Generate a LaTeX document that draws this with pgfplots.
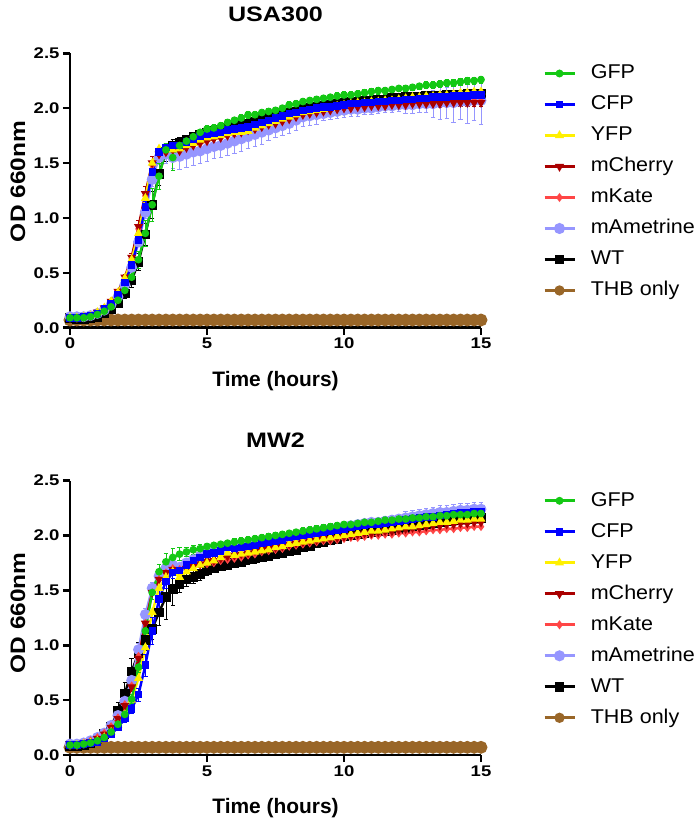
\documentclass[border=0pt]{standalone}
\usepackage{pgfplots}
\pgfplotsset{compat=1.18}
\usepackage{pgfplotstable}
\usepackage{fontspec}
\setmainfont{Liberation Sans}
\newfontfamily\widefont[FakeStretch=1.2]{Liberation Sans}
\newfontfamily\legfont[FakeStretch=1.08]{Liberation Sans}
\newfontfamily\ylfont[FakeStretch=1.17]{Liberation Sans}
\definecolor{cG}{RGB}{20,200,20}
\definecolor{cC}{RGB}{0,0,255}
\definecolor{cY}{RGB}{255,240,0}
\definecolor{cCh}{RGB}{170,0,0}
\definecolor{cKa}{RGB}{255,70,70}
\definecolor{cAm}{RGB}{150,150,255}
\definecolor{cTHB}{RGB}{153,102,40}

\pgfplotstableread{
t G C Y Ch Ka Am WT THB eG eC eCh eAm eWT
0 0.09 0.09 0.09 0.09 0.09 0.10 0.09 0.07 0.01 0.01 0.01 0.01 0.01
0.25 0.09 0.09 0.09 0.09 0.09 0.10 0.08 0.07 0.01 0.01 0.01 0.01 0.01
0.5 0.09 0.10 0.10 0.10 0.10 0.10 0.08 0.07 0.01 0.01 0.01 0.01 0.01
0.75 0.10 0.11 0.11 0.11 0.11 0.11 0.09 0.07 0.01 0.01 0.01 0.01 0.01
1.0 0.12 0.13 0.14 0.14 0.14 0.13 0.10 0.07 0.01 0.01 0.01 0.01 0.01
1.25 0.15 0.17 0.18 0.18 0.18 0.16 0.13 0.07 0.01 0.01 0.01 0.01 0.02
1.5 0.19 0.22 0.24 0.24 0.24 0.21 0.17 0.07 0.02 0.01 0.02 0.01 0.02
1.75 0.25 0.30 0.32 0.33 0.32 0.28 0.22 0.07 0.02 0.02 0.02 0.02 0.03
2.0 0.34 0.41 0.45 0.46 0.45 0.39 0.31 0.07 0.03 0.02 0.03 0.02 0.04
2.25 0.46 0.57 0.62 0.64 0.63 0.55 0.43 0.07 0.05 0.03 0.04 0.03 0.06
2.5 0.62 0.80 0.86 0.92 0.90 0.78 0.60 0.07 0.08 0.04 0.06 0.04 0.08
2.75 0.86 1.10 1.18 1.22 1.20 1.05 0.85 0.07 0.12 0.05 0.07 0.05 0.10
3.0 1.12 1.42 1.50 1.50 1.48 1.35 1.12 0.07 0.15 0.05 0.06 0.06 0.12
3.25 1.38 1.60 1.63 1.58 1.58 1.55 1.40 0.07 0.12 0.04 0.05 0.06 0.10
3.5 1.62 1.64 1.63 1.60 1.60 1.58 1.60 0.07 0.06 0.04 0.04 0.08 0.08
3.75 1.55 1.66 1.62 1.62 1.62 1.55 1.66 0.07 0.12 0.04 0.04 0.10 0.06
4.0 1.66 1.66 1.63 1.61 1.62 1.56 1.68 0.07 0.05 0.03 0.04 0.12 0.05
4.25 1.70 1.69 1.66 1.64 1.65 1.58 1.71 0.07 0.03 0.03 0.03 0.12 0.04
4.5 1.74 1.72 1.68 1.66 1.67 1.60 1.74 0.07 0.03 0.03 0.03 0.12 0.04
4.75 1.78 1.74 1.71 1.68 1.69 1.61 1.76 0.07 0.03 0.02 0.03 0.11 0.03
5.0 1.81 1.76 1.73 1.70 1.71 1.63 1.78 0.07 0.03 0.02 0.03 0.11 0.03
5.25 1.82 1.77 1.74 1.72 1.73 1.65 1.79 0.07 0.03 0.02 0.03 0.11 0.03
5.5 1.84 1.78 1.75 1.73 1.74 1.66 1.80 0.07 0.03 0.02 0.03 0.11 0.03
5.75 1.87 1.80 1.77 1.75 1.76 1.68 1.82 0.07 0.03 0.02 0.03 0.11 0.03
6.0 1.89 1.81 1.78 1.77 1.78 1.70 1.84 0.07 0.03 0.02 0.03 0.11 0.03
6.25 1.91 1.82 1.78 1.78 1.79 1.72 1.85 0.07 0.03 0.02 0.03 0.11 0.03
6.5 1.94 1.83 1.79 1.80 1.80 1.74 1.86 0.07 0.03 0.02 0.03 0.11 0.03
6.75 1.94 1.85 1.82 1.81 1.82 1.76 1.88 0.07 0.03 0.02 0.03 0.11 0.03
7.0 1.96 1.87 1.84 1.83 1.84 1.78 1.90 0.07 0.03 0.02 0.03 0.11 0.03
7.25 1.97 1.89 1.86 1.85 1.86 1.80 1.91 0.07 0.03 0.02 0.03 0.09 0.03
7.5 1.98 1.91 1.88 1.86 1.87 1.82 1.93 0.07 0.03 0.02 0.03 0.09 0.03
7.75 2.00 1.93 1.90 1.88 1.89 1.84 1.94 0.07 0.03 0.02 0.03 0.09 0.03
8.0 2.03 1.95 1.92 1.90 1.91 1.86 1.96 0.07 0.03 0.02 0.03 0.09 0.03
8.25 2.04 1.96 1.94 1.92 1.93 1.89 1.97 0.07 0.03 0.02 0.03 0.09 0.03
8.5 2.06 1.98 1.96 1.94 1.95 1.92 1.99 0.07 0.03 0.02 0.03 0.09 0.03
8.75 2.07 1.99 1.97 1.95 1.96 1.93 2.00 0.07 0.03 0.02 0.03 0.09 0.03
9.0 2.08 2.00 1.98 1.96 1.97 1.94 2.01 0.07 0.03 0.02 0.03 0.09 0.03
9.25 2.09 2.01 1.99 1.97 1.98 1.95 2.02 0.07 0.03 0.02 0.03 0.06 0.03
9.5 2.10 2.01 2.00 1.98 1.99 1.96 2.03 0.07 0.03 0.02 0.03 0.06 0.03
9.75 2.11 2.02 2.02 1.99 2.00 1.97 2.04 0.07 0.03 0.02 0.03 0.06 0.03
10.0 2.12 2.03 2.03 2.00 2.01 1.98 2.05 0.07 0.03 0.02 0.03 0.06 0.03
10.25 2.12 2.04 2.04 2.00 2.02 1.99 2.06 0.07 0.03 0.02 0.03 0.06 0.03
10.5 2.13 2.04 2.05 2.01 2.02 1.99 2.06 0.07 0.03 0.02 0.03 0.06 0.03
10.75 2.14 2.05 2.05 2.01 2.03 2.00 2.07 0.07 0.03 0.02 0.03 0.06 0.03
11.0 2.15 2.05 2.06 2.02 2.03 2.00 2.07 0.07 0.03 0.02 0.03 0.06 0.03
11.25 2.16 2.06 2.06 2.02 2.04 2.01 2.08 0.07 0.03 0.02 0.03 0.06 0.03
11.5 2.16 2.06 2.07 2.02 2.04 2.02 2.08 0.07 0.03 0.02 0.03 0.06 0.03
11.75 2.17 2.07 2.07 2.03 2.05 2.02 2.09 0.07 0.03 0.02 0.03 0.06 0.03
12.0 2.18 2.07 2.08 2.03 2.05 2.03 2.09 0.07 0.03 0.02 0.03 0.06 0.03
12.25 2.18 2.08 2.09 2.03 2.06 2.03 2.10 0.07 0.03 0.02 0.03 0.08 0.03
12.5 2.19 2.08 2.10 2.04 2.06 2.03 2.10 0.07 0.03 0.02 0.03 0.08 0.03
12.75 2.20 2.09 2.10 2.04 2.07 2.04 2.10 0.07 0.03 0.02 0.03 0.08 0.03
13.0 2.21 2.09 2.11 2.04 2.07 2.04 2.11 0.07 0.03 0.02 0.03 0.08 0.03
13.25 2.21 2.10 2.11 2.04 2.07 2.04 2.11 0.07 0.03 0.02 0.03 0.12 0.03
13.5 2.22 2.10 2.12 2.04 2.08 2.05 2.11 0.07 0.03 0.02 0.03 0.15 0.03
13.75 2.23 2.10 2.12 2.05 2.08 2.05 2.12 0.07 0.03 0.02 0.03 0.14 0.03
14.0 2.23 2.11 2.13 2.05 2.08 2.05 2.12 0.07 0.03 0.02 0.03 0.18 0.03
14.25 2.24 2.11 2.14 2.05 2.09 2.06 2.12 0.07 0.03 0.02 0.03 0.16 0.03
14.5 2.25 2.11 2.14 2.05 2.09 2.06 2.13 0.07 0.03 0.02 0.03 0.20 0.03
14.75 2.25 2.12 2.15 2.05 2.09 2.07 2.13 0.07 0.03 0.02 0.03 0.18 0.03
15.0 2.26 2.12 2.15 2.05 2.09 2.07 2.13 0.07 0.03 0.02 0.03 0.22 0.03
}\topdata

\pgfplotstableread{
t G C Y Ch Ka Am WT THB eG eC eCh eAm eWT
0 0.09 0.09 0.09 0.09 0.09 0.10 0.08 0.07 0.01 0.01 0.01 0.01 0.01
0.25 0.09 0.09 0.09 0.09 0.09 0.10 0.08 0.07 0.01 0.01 0.01 0.01 0.01
0.5 0.10 0.10 0.10 0.11 0.11 0.11 0.09 0.07 0.01 0.01 0.01 0.01 0.01
0.75 0.11 0.11 0.11 0.12 0.13 0.13 0.11 0.07 0.01 0.01 0.01 0.01 0.01
1.0 0.13 0.12 0.13 0.15 0.16 0.16 0.14 0.07 0.01 0.01 0.01 0.01 0.02
1.25 0.16 0.15 0.16 0.19 0.20 0.20 0.19 0.07 0.01 0.01 0.02 0.02 0.03
1.5 0.21 0.19 0.21 0.25 0.26 0.27 0.26 0.07 0.02 0.02 0.02 0.02 0.05
1.75 0.28 0.25 0.27 0.33 0.34 0.36 0.40 0.07 0.02 0.02 0.03 0.03 0.08
2.0 0.37 0.33 0.37 0.45 0.46 0.49 0.56 0.07 0.03 0.03 0.03 0.04 0.10
2.25 0.51 0.42 0.50 0.62 0.63 0.68 0.76 0.07 0.04 0.04 0.04 0.05 0.12
2.5 0.80 0.55 0.70 0.88 0.90 0.96 0.93 0.07 0.05 0.06 0.05 0.06 0.10
2.75 1.13 0.82 0.98 1.20 1.20 1.28 1.05 0.07 0.06 0.10 0.06 0.06 0.10
3.0 1.48 1.13 1.30 1.48 1.48 1.52 1.15 0.07 0.06 0.12 0.06 0.05 0.10
3.25 1.67 1.42 1.52 1.60 1.60 1.63 1.30 0.07 0.07 0.10 0.05 0.05 0.12
3.5 1.76 1.58 1.62 1.66 1.66 1.70 1.44 0.07 0.08 0.06 0.04 0.04 0.20
3.75 1.80 1.66 1.67 1.69 1.70 1.73 1.51 0.07 0.08 0.05 0.04 0.04 0.15
4.0 1.83 1.68 1.62 1.68 1.69 1.71 1.56 0.07 0.06 0.05 0.03 0.04 0.08
4.25 1.85 1.73 1.67 1.70 1.71 1.75 1.60 0.07 0.04 0.04 0.03 0.03 0.06
4.5 1.87 1.77 1.70 1.72 1.72 1.78 1.62 0.07 0.04 0.04 0.03 0.03 0.06
4.75 1.88 1.80 1.73 1.74 1.73 1.81 1.65 0.07 0.04 0.04 0.03 0.03 0.06
5.0 1.90 1.83 1.75 1.76 1.74 1.84 1.68 0.07 0.03 0.03 0.03 0.03 0.04
5.25 1.91 1.84 1.77 1.77 1.75 1.85 1.70 0.07 0.03 0.03 0.03 0.03 0.04
5.5 1.92 1.86 1.80 1.79 1.77 1.87 1.72 0.07 0.03 0.03 0.03 0.03 0.04
5.75 1.93 1.89 1.84 1.81 1.78 1.91 1.73 0.07 0.03 0.03 0.03 0.03 0.04
6.0 1.94 1.88 1.82 1.82 1.79 1.90 1.75 0.07 0.03 0.03 0.03 0.03 0.04
6.25 1.95 1.89 1.83 1.83 1.80 1.91 1.76 0.07 0.03 0.03 0.03 0.03 0.04
6.5 1.96 1.90 1.84 1.84 1.82 1.92 1.78 0.07 0.03 0.03 0.03 0.03 0.04
6.75 1.97 1.91 1.85 1.86 1.83 1.93 1.79 0.07 0.03 0.03 0.03 0.03 0.04
7.0 1.98 1.93 1.86 1.87 1.85 1.94 1.80 0.07 0.03 0.03 0.03 0.03 0.04
7.25 1.99 1.94 1.87 1.88 1.86 1.95 1.81 0.07 0.03 0.03 0.03 0.04 0.03
7.5 2.00 1.95 1.89 1.89 1.87 1.96 1.83 0.07 0.03 0.03 0.03 0.04 0.03
7.75 2.01 1.96 1.90 1.90 1.88 1.97 1.84 0.07 0.03 0.03 0.03 0.04 0.03
8.0 2.02 1.98 1.92 1.92 1.90 1.98 1.86 0.07 0.03 0.03 0.03 0.04 0.03
8.25 2.03 1.99 1.93 1.93 1.91 1.99 1.87 0.07 0.03 0.03 0.03 0.04 0.03
8.5 2.04 2.00 1.94 1.94 1.92 2.01 1.89 0.07 0.03 0.03 0.03 0.04 0.03
8.75 2.05 2.01 1.95 1.95 1.93 2.03 1.90 0.07 0.03 0.03 0.03 0.04 0.03
9.0 2.06 2.02 1.96 1.96 1.94 2.04 1.93 0.07 0.03 0.03 0.03 0.04 0.03
9.25 2.07 2.03 1.97 1.97 1.95 2.05 1.94 0.07 0.03 0.03 0.03 0.04 0.03
9.5 2.08 2.04 1.98 1.97 1.95 2.06 1.96 0.07 0.03 0.03 0.03 0.04 0.03
9.75 2.09 2.05 1.99 1.98 1.96 2.07 1.97 0.07 0.03 0.03 0.03 0.04 0.03
10.0 2.10 2.06 2.00 1.99 1.97 2.08 1.99 0.07 0.03 0.03 0.03 0.04 0.03
10.25 2.10 2.07 2.01 2.00 1.98 2.09 2.00 0.07 0.03 0.03 0.03 0.04 0.03
10.5 2.11 2.08 2.02 2.01 1.98 2.10 2.01 0.07 0.03 0.03 0.03 0.04 0.03
10.75 2.12 2.09 2.03 2.02 1.99 2.11 2.02 0.07 0.03 0.03 0.03 0.04 0.03
11.0 2.12 2.10 2.04 2.02 2.00 2.12 2.03 0.07 0.03 0.03 0.03 0.04 0.03
11.25 2.13 2.10 2.04 2.03 2.00 2.12 2.04 0.07 0.03 0.03 0.03 0.04 0.03
11.5 2.14 2.11 2.05 2.04 2.01 2.13 2.04 0.07 0.03 0.03 0.03 0.04 0.03
11.75 2.14 2.12 2.06 2.04 2.01 2.14 2.05 0.07 0.03 0.03 0.03 0.04 0.03
12.0 2.15 2.13 2.07 2.05 2.02 2.15 2.06 0.07 0.03 0.03 0.03 0.04 0.03
12.25 2.15 2.14 2.08 2.06 2.02 2.16 2.07 0.07 0.03 0.04 0.03 0.06 0.03
12.5 2.16 2.15 2.08 2.07 2.03 2.17 2.08 0.07 0.03 0.04 0.03 0.06 0.03
12.75 2.16 2.16 2.09 2.07 2.03 2.18 2.09 0.07 0.03 0.04 0.03 0.06 0.03
13.0 2.17 2.17 2.10 2.08 2.04 2.19 2.10 0.07 0.03 0.04 0.03 0.06 0.03
13.25 2.17 2.17 2.11 2.09 2.05 2.20 2.11 0.07 0.03 0.04 0.03 0.06 0.03
13.5 2.18 2.18 2.12 2.09 2.05 2.21 2.12 0.07 0.03 0.04 0.03 0.06 0.03
13.75 2.18 2.19 2.12 2.10 2.06 2.21 2.13 0.07 0.03 0.04 0.03 0.06 0.03
14.0 2.19 2.20 2.13 2.10 2.06 2.22 2.14 0.07 0.03 0.04 0.03 0.06 0.03
14.25 2.19 2.21 2.14 2.11 2.07 2.23 2.15 0.07 0.03 0.04 0.03 0.06 0.03
14.5 2.19 2.21 2.14 2.11 2.07 2.23 2.15 0.07 0.03 0.04 0.03 0.06 0.03
14.75 2.20 2.22 2.15 2.12 2.08 2.24 2.16 0.07 0.03 0.04 0.03 0.06 0.03
15.0 2.20 2.22 2.15 2.12 2.08 2.24 2.16 0.07 0.03 0.04 0.03 0.06 0.03
}\botdata

\pgfplotsset{
  myaxis/.style={
    scale only axis, width=411bp, height=274.4bp,
    anchor=south west,
    xmin=0, xmax=15, ymin=0, ymax=2.5,
    axis x line*=bottom, axis y line*=left,
    axis line style={line width=2.6bp},
    tick align=outside, major tick length=7bp,
    tick style={line width=2.6bp, black},
    xtick={0,5,10,15}, ytick={0,0.5,1,1.5,2,2.5},
    yticklabel style={/pgf/number format/.cd, fixed, fixed zerofill, precision=1},
    /pgf/number format/assume math mode=true,
    tick label style={font=\widefont\bfseries\fontsize{15.5}{15.5}\selectfont},
    clip=false,
    reverse legend,
    legend cell align=left,
    legend style={at={(rel axis cs:1,1)}, anchor=north west, xshift=62bp, yshift=-10.5bp,
      draw=none, fill=none, inner sep=0pt, row sep=12bp, column sep=15bp,
      font=\legfont\fontsize{20}{20}\selectfont,
      nodes={inner sep=0pt, text height=15bp, text depth=4bp}},
    legend image post style={line width=2.6bp},
    legend image code/.code={\draw[mark repeat=2,mark phase=2,#1] plot coordinates {(0bp,0bp) (15bp,0bp) (30bp,0bp)};},
  },
  eb/.style={error bars/.cd, y dir=both, y explicit,
    error bar style={line width=0.7bp},
    error mark options={rotate=90, mark size=2.2bp, line width=0.7bp}},
}

\newcommand{\drawseries}[1]{%
  \addplot[cTHB, line width=5bp, mark=*, mark size=3.8bp] table[x=t, y=THB]{#1};
  \addlegendentry{THB only}
  \addplot[black, line width=2.4bp, mark=square*, mark size=3.6bp, eb] table[x=t, y=WT, y error=eWT]{#1};
  \addlegendentry{WT}
  \addplot[cAm, line width=2.4bp, mark=*, mark size=4.2bp, eb] table[x=t, y=Am, y error=eAm]{#1};
  \addlegendentry{mAmetrine}
  \addplot[cKa, line width=2.4bp, mark=diamond*, mark size=2.4bp] table[x=t, y=Ka]{#1};
  \addlegendentry{mKate}
  \addplot[cCh, line width=2.4bp, mark=triangle*, mark size=2.8bp, mark options={rotate=180}, eb] table[x=t, y=Ch, y error=eCh]{#1};
  \addlegendentry{mCherry}
  \addplot[cY, line width=2.4bp, mark=triangle*, mark size=2.8bp] table[x=t, y=Y]{#1};
  \addlegendentry{YFP}
  \addplot[cC, line width=2.4bp, mark=square*, mark size=2.5bp, eb] table[x=t, y=C, y error=eC]{#1};
  \addlegendentry{CFP}
  \addplot[cG, line width=2.4bp, mark=*, mark size=2.6bp, eb] table[x=t, y=G, y error=eG]{#1};
  \addlegendentry{GFP}
}

\begin{document}
\begin{tikzpicture}
\useasboundingbox (0,0) rectangle (700bp,825bp);
\begin{axis}[myaxis, at={(70bp,497.3bp)}]
\drawseries{\topdata}
\node[font=\widefont\bfseries\fontsize{21}{21}\selectfont] at ([yshift=39bp]rel axis cs:0.5,1) {USA300};
\node[font=\bfseries\fontsize{21}{21}\selectfont] at ([yshift=-53bp]rel axis cs:0.5,0) {Time (hours)};
\node[font=\ylfont\bfseries\fontsize{21}{21}\selectfont, rotate=90] at ([xshift=-52bp, yshift=9bp]rel axis cs:0,0.5) {OD 660nm};
\end{axis}
\begin{axis}[myaxis, at={(70bp,70bp)}]
\drawseries{\botdata}
\node[font=\widefont\bfseries\fontsize{21}{21}\selectfont] at ([yshift=40bp]rel axis cs:0.5,1) {MW2};
\node[font=\bfseries\fontsize{21}{21}\selectfont] at ([yshift=-53bp]rel axis cs:0.5,0) {Time (hours)};
\node[font=\ylfont\bfseries\fontsize{21}{21}\selectfont, rotate=90] at ([xshift=-52bp, yshift=5bp]rel axis cs:0,0.5) {OD 660nm};
\end{axis}
\end{tikzpicture}
\end{document}
